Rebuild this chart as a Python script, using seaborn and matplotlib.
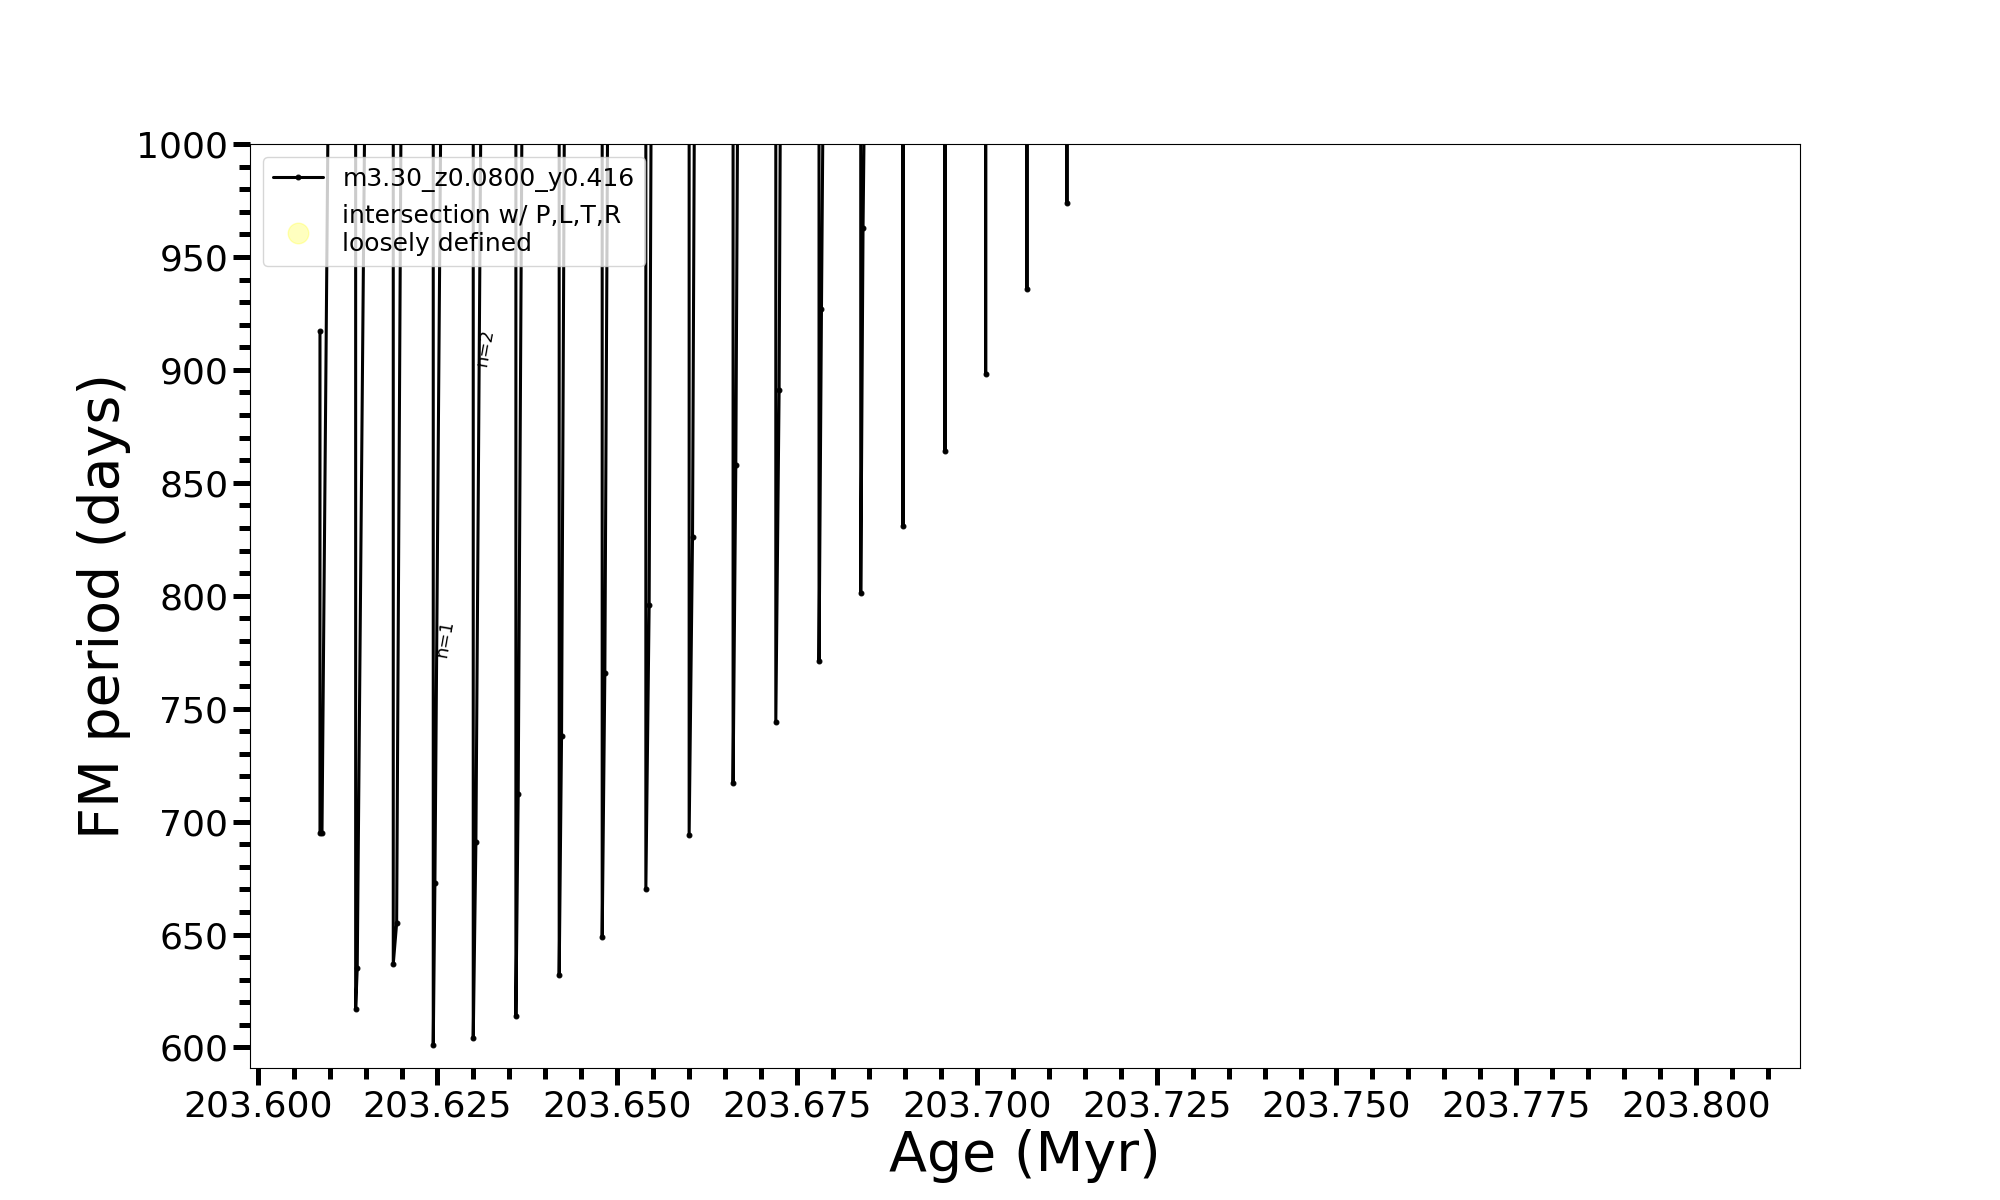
#plot.py
# FM period vs age for the m3.30_z0.0800_y0.416 track (zoom on the pulse spikes)

import numpy as np
import pandas as pd
import seaborn as sns
import matplotlib
matplotlib.use('Agg')
import matplotlib.pyplot as plt
from matplotlib.ticker import MultipleLocator, FormatStrFormatter

# track vertices (age in Myr, FM period in days)
# each spike: top of the descent, bottom of the descent, bottom of the rise, top of the rise
age_myr = [
    203.60866, 203.60866, 203.60894, 203.60991,
    203.61362, 203.61362, 203.61384, 203.61501,
    203.61885, 203.61885, 203.61932, 203.62001,
    203.62441, 203.62441, 203.62464, 203.62557,
    203.62997, 203.62997, 203.63034, 203.63113,
    203.63590, 203.63590, 203.63622, 203.63683,
    203.64192, 203.64192, 203.64225, 203.64271,
    203.64790, 203.64790, 203.64827, 203.64873,
    203.65397, 203.65397, 203.65443, 203.65476,
    203.65999, 203.65999, 203.66046, 203.66078,
    203.66610, 203.66610, 203.66648, 203.66680,
    203.67204, 203.67204, 203.67250, 203.67273,
    203.67805, 203.67805, 203.67839, 203.67871,
    203.68385, 203.68385, 203.68417, 203.68450,
    203.68973, 203.68973, 203.68973,
    203.69557, 203.69557, 203.69557,
    203.70122, 203.70122, 203.70122,
    203.70696, 203.70696, 203.70696,
    203.71252, 203.71252, 203.71252,
]
period_days = [
    917, 695, 695, 1060,
    1060, 617, 635, 1060,
    1060, 637, 655, 1060,
    1060, 601, 673, 1060,
    1060, 604, 691, 1060,
    1060, 614, 712, 1060,
    1060, 632, 738, 1060,
    1060, 649, 766, 1060,
    1060, 670, 796, 1060,
    1060, 694, 826, 1060,
    1060, 717, 858, 1060,
    1060, 744, 891, 1060,
    1060, 771, 927, 1060,
    1060, 801, 963, 1060,
    1060, 831, 1060,
    1060, 864, 1060,
    1060, 898, 1060,
    1060, 936, 1060,
    1060, 974, 1060,
]

track_label = 'm3.30_z0.0800_y0.416'
intersect_label = 'intersection w/ P,L,T,R\nloosely defined'

# pulse number labels
n_text = ['n=1', 'n=2']
n_age = [203.62603, 203.63159]
n_period = [781, 910]

df = pd.DataFrame({'age': age_myr, 'period': period_days})

sns.set_style('ticks')
plt.rcParams['font.family'] = ['DejaVu Sans']
# plain black text and ticks like a default matplotlib figure
for key in ['text.color', 'axes.labelcolor', 'xtick.color', 'ytick.color', 'axes.edgecolor']:
    plt.rcParams[key] = 'black'

fig, ax = plt.subplots(figsize=(20, 12), dpi=100)

sns.lineplot(data=df, x='age', y='period', sort=False, estimator=None,
             color='k', linewidth=2.2, marker='.', markersize=7,
             markeredgecolor='k', label=track_label, ax=ax)

# nothing lands on the chart, only the legend entry is left
ax.scatter([], [], s=220, color='yellow', alpha=0.25, label=intersect_label)

for t, xa, yp in zip(n_text, n_age, n_period):
    ax.text(xa, yp, t, rotation=80, fontsize=13, ha='center', va='center')

ax.set_xlim(203.59893, 203.81445)
ax.set_ylim(590.9, 1000)

ax.xaxis.set_major_locator(MultipleLocator(0.025))
ax.xaxis.set_minor_locator(MultipleLocator(0.005))
ax.xaxis.set_major_formatter(FormatStrFormatter('%.3f'))
ax.yaxis.set_major_locator(MultipleLocator(50))
ax.yaxis.set_minor_locator(MultipleLocator(10))

ax.tick_params(axis='both', which='major', length=12, width=3.6, labelsize=26, direction='out')
ax.tick_params(axis='both', which='minor', length=7.7, width=3.6, direction='out')

for sp in ax.spines.values():
    sp.set_linewidth(0.8)
    sp.set_color('k')

ax.set_xlabel('Age (Myr)', fontsize=40)
ax.set_ylabel('FM period (days)', fontsize=40)

ax.legend(loc='upper left', fontsize=18)

fig.savefig('out.png', dpi=100)
